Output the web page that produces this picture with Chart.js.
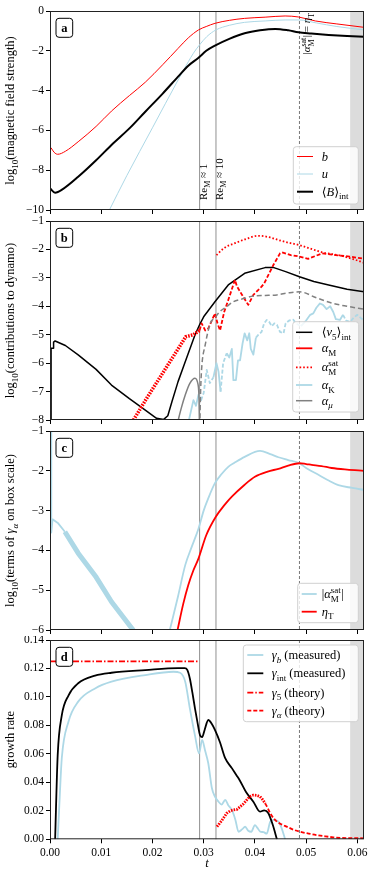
<!DOCTYPE html>
<html><head><meta charset="utf-8">
<script src="https://cdn.jsdelivr.net/npm/chart.js@4.4.1/dist/chart.umd.min.js"></script>
<style>
html,body{margin:0;padding:0;background:#fff;}
#wrap{position:relative;width:374px;height:877px;overflow:hidden;background:#fff;}
canvas{position:absolute;left:0;}
</style></head><body>
<div id="wrap">
<canvas id="cA" width="374" height="216" style="top:0px"></canvas>
<canvas id="cB" width="374" height="210" style="top:216px"></canvas>
<canvas id="cC" width="374" height="210" style="top:426px"></canvas>
<canvas id="cD" width="374" height="241" style="top:636px"></canvas>
</div>
<script>
// ---------- ticks & reference times ----------
const tTicks = [0,0.01,0.02,0.03,0.04,0.05,0.06];
const yTicksA = [-10,-8,-6,-4,-2,0];
const yTicksB = [-8,-7,-6,-5,-4,-3,-2,-1];
const yTicksC = [-6,-5,-4,-3,-2,-1];
const yTicksD = [0,0.02,0.04,0.06,0.08,0.10,0.12,0.14];
const tReM = [0.0292, 0.0324];
const tSat = 0.0487;
const tBand = 0.0586;
const tMax = 0.0613;

// ---------- panel a ----------
const tA_b = [0.0002,0.0008,0.0015,0.003,0.0055,0.009,0.012,0.0155,0.0186,0.022,0.025,0.027,0.029,0.0305,0.0322,0.035,0.038,0.042,0.0459,0.0485,0.0518,0.056,0.0613];
const vA_b = [-6.87,-7.1,-7.2,-7.05,-6.57,-5.8,-5.03,-4.25,-3.58,-2.7,-1.88,-1.35,-0.95,-0.78,-0.62,-0.47,-0.37,-0.31,-0.25,-0.3,-0.5,-0.65,-0.82];
const tA_u = [0.0114,0.015,0.02,0.025,0.027,0.028,0.0292,0.0306,0.0324,0.035,0.038,0.042,0.0459,0.0487,0.052,0.056,0.0613];
const vA_u = [-10.1,-8.27,-5.87,-3.47,-2.55,-2.12,-1.7,-1.29,-0.95,-0.72,-0.57,-0.5,-0.45,-0.45,-0.6,-0.78,-0.95];
const tA_B = [0,0.001,0.0025,0.0055,0.009,0.012,0.0155,0.0186,0.022,0.025,0.027,0.029,0.0305,0.0322,0.035,0.038,0.041,0.044,0.0465,0.0485,0.051,0.0544,0.058,0.0613];
const vA_B = [-8.91,-9.13,-8.95,-8.33,-7.5,-6.73,-5.9,-5.06,-4.15,-3.3,-2.75,-2.35,-2.0,-1.74,-1.4,-1.12,-0.97,-0.9,-0.97,-1.07,-1.13,-1.2,-1.26,-1.3];

// ---------- panel b ----------
const tB_v5 = [0.0002,0.00021,0.0006,0.0007,0.001,0.003,0.0055,0.009,0.012,0.0155,0.0186,0.0208,0.0222,0.023,0.0238,0.025,0.0264,0.0283,0.0292,0.03,0.0322,0.0348,0.038,0.042,0.0437,0.046,0.0487,0.0515,0.0544,0.058,0.0613];
const vB_v5 = [-9,-5.48,-5.48,-5.26,-5.22,-5.38,-5.71,-6.22,-6.77,-7.25,-7.65,-7.94,-7.98,-7.85,-7.36,-6.65,-5.95,-5.01,-4.65,-4.37,-3.84,-3.25,-2.84,-2.64,-2.64,-2.78,-2.96,-3.13,-3.25,-3.4,-3.49];
const tB_aMe = [0.0163,0.019,0.022,0.025,0.0265,0.028,0.0292];
const vB_aMe = [-8.0,-7.2,-6.35,-5.5,-5.07,-5.0,-4.85];
const tB_aM = [0.0292,0.0296,0.0303,0.0309,0.0316,0.0322,0.0327,0.0332,0.034,0.0348,0.0361,0.0365,0.0375,0.0387,0.0397,0.0413,0.0418,0.0436,0.0449,0.0453,0.047,0.0487,0.0504,0.0531,0.0557,0.0585,0.0613];
const vB_aM = [-4.85,-4.6,-4.85,-4.78,-4.5,-4.25,-4.6,-4.85,-4.2,-3.78,-3.07,-3.3,-3.6,-3.95,-3.6,-3.31,-3.2,-2.55,-2.14,-2.1,-2.2,-2.25,-2.33,-2.14,-2.2,-2.25,-2.33];
const tB_sat = [0.0325,0.034,0.0361,0.038,0.0407,0.043,0.0446,0.0465,0.0487,0.051,0.0531,0.0568,0.059,0.0613];
const vB_sat = [-2.2,-1.95,-1.78,-1.65,-1.52,-1.58,-1.67,-1.76,-1.85,-1.98,-2.1,-2.22,-2.33,-2.47];
const tB_aK = [0.027,0.028,0.0285,0.029,0.0295,0.03,0.0306,0.0312,0.0319,0.0325,0.0329,0.0333,0.0338,0.0345,0.035,0.0355,0.0358,0.0363,0.0367,0.0371,0.0376,0.038,0.0385,0.0389,0.0392,0.0397,0.0402,0.0407,0.0413,0.0418,0.0423,0.0428,0.0433,0.0438,0.0443,0.0449,0.0456,0.046,0.0467,0.0475,0.048,0.049,0.05,0.0508,0.0514,0.052,0.0527,0.0533,0.054,0.0547,0.0553,0.0558,0.0566,0.0572,0.0578,0.0586,0.0593,0.06,0.0606,0.0613];
const vB_aK = [-8.1,-7.3,-7.5,-7.1,-7.3,-7.05,-6.24,-6.7,-6.5,-6.0,-6.3,-7.0,-6.0,-5.65,-5.8,-5.5,-6.6,-6.6,-5.9,-5.9,-5.3,-4.95,-5.2,-4.95,-5.5,-5.7,-5.1,-5.0,-4.9,-4.6,-4.48,-4.55,-4.7,-4.6,-4.65,-4.9,-4.95,-4.6,-4.5,-4.47,-4.6,-4.7,-4.5,-4.3,-4.25,-4.05,-3.9,-3.95,-4.1,-4.0,-4.2,-4.45,-4.48,-4.3,-4.5,-4.55,-4.4,-4.3,-4.4,-4.5];
const sB_aK = [1,1,1,-1,-1,-1,-1,-1,1,1,1,-1,-1,1,1,1,1,1,1,1,1,1,1,1,1,1,-1,-1,-1,-1,-1,-1,-1,-1,-1,-1,-1,-1,-1,-1,-1,1,1,1,1,1,1,1,1,1,1,1,1,-1,-1,-1,-1,-1,-1,-1];
const tB_muP = [0.0249,0.0256,0.0264,0.0273,0.0283,0.0289,0.0291,0.0292];
const vB_muP = [-8.1,-7.6,-7.12,-6.71,-6.53,-6.75,-7.3,-8.5];
const tB_muN = [0.0292,0.0294,0.0296,0.0303,0.0313,0.0322,0.0332,0.0342,0.0358,0.038,0.0397,0.042,0.0443,0.0465,0.0487,0.052,0.0553,0.058,0.0613];
const vB_muN = [-8.5,-7.0,-6.2,-5.36,-4.6,-4.4,-4.18,-4.05,-3.84,-3.72,-3.64,-3.62,-3.6,-3.53,-3.49,-3.7,-3.9,-4.0,-4.1];

// ---------- panel c ----------
const tC_sat = [0.0002,0.00025,0.0005,0.0016,0.0029];
const vC_sat = [-0.8,-3.55,-3.22,-3.32,-3.53];
const tC_satBand = [0.0029,0.0055,0.009,0.012,0.016,0.0168];
const vC_satBand = [-3.53,-4.07,-4.67,-5.29,-5.96,-6.12];
const tC_sat2 = [0.0232,0.025,0.0264,0.0277,0.029,0.03,0.0309,0.0322,0.0335,0.0348,0.036,0.038,0.041,0.043,0.0446,0.0465,0.0487,0.05,0.0524,0.0545,0.0563,0.059,0.0613];
const vC_sat2 = [-6.1,-5.15,-4.37,-3.9,-3.45,-3.0,-2.69,-2.31,-2.08,-1.9,-1.8,-1.65,-1.5,-1.58,-1.66,-1.73,-1.81,-1.93,-2.1,-2.25,-2.36,-2.43,-2.48];
const tC_eta = [0.0249,0.026,0.027,0.028,0.029,0.0305,0.0324,0.034,0.0355,0.038,0.04,0.0425,0.0446,0.0465,0.0487,0.05,0.0511,0.053,0.055,0.058,0.0613];
const vC_eta = [-6.0,-5.35,-4.87,-4.5,-4.2,-3.62,-3.15,-2.87,-2.65,-2.35,-2.15,-2.02,-1.95,-1.87,-1.81,-1.83,-1.85,-1.88,-1.93,-1.97,-2.0];

// ---------- panel d ----------
const tD_g5 = [0, 0.029];
const vD_g5 = [0.125, 0.125];
const tD_int = [0.001,0.0015,0.0023,0.0036,0.0055,0.0088,0.012,0.0186,0.025,0.0263,0.0268,0.0273,0.0278,0.0283,0.0288,0.0293,0.0297,0.0302,0.0309,0.0316,0.0322,0.0332,0.0342,0.0355,0.0364,0.037,0.0383,0.0397,0.041,0.0418,0.0426,0.0435,0.0443];
const vD_int = [0,0.059,0.087,0.101,0.1096,0.115,0.117,0.1189,0.1203,0.1203,0.119,0.113,0.103,0.092,0.082,0.073,0.0718,0.077,0.0838,0.081,0.0768,0.068,0.057,0.05,0.045,0.0417,0.033,0.0264,0.0194,0.0203,0.0185,0.01,0];
const tD_b = [0.0015,0.0019,0.0023,0.0036,0.0055,0.0088,0.012,0.0186,0.0241,0.0254,0.0264,0.0273,0.0283,0.0291,0.0297,0.0303,0.0309,0.0316,0.0322,0.0329,0.0335,0.0342,0.0348,0.0355,0.0362,0.0368,0.0375,0.0381,0.0387,0.0393,0.04,0.0405,0.041,0.0417,0.0423,0.043,0.0436,0.0446,0.0452,0.0459];
const vD_b = [0,0.03,0.057,0.0826,0.0967,0.106,0.1107,0.1154,0.1177,0.117,0.1107,0.092,0.073,0.0604,0.0698,0.062,0.0534,0.036,0.03,0.0264,0.0244,0.0276,0.024,0.0206,0.0136,0.0053,0.007,0.0088,0.006,0.0053,0.01,0.008,0.0055,0.005,0.004,0.0124,0.0136,0.0124,0.008,0];
const tD_aE = [0.0326,0.0335,0.0345,0.0352,0.0358,0.0365,0.0371,0.0378,0.0384,0.039,0.0397,0.0404,0.041,0.0415,0.042];
const vD_aE = [0.0089,0.013,0.0183,0.02,0.0206,0.021,0.0229,0.025,0.0276,0.03,0.0311,0.0308,0.03,0.028,0.0253];
const tD_a = [0.042,0.0425,0.043,0.0436,0.0443,0.0452,0.0462,0.0475,0.0488,0.0505,0.052,0.0537,0.0553,0.057,0.059,0.0613];
const vD_a = [0.0253,0.022,0.0183,0.015,0.0124,0.0105,0.0089,0.0068,0.0053,0.004,0.003,0.0021,0.0014,0.001,0.0008,0.0007];

// ---------- styling helpers ----------
const FONT = "'Liberation Serif','DejaVu Serif',serif";
const RED = '#ff0000', LB = '#add8e6', GREY = '#808080';
const SMOOTH = {cubicInterpolationMode:'monotone'};
function pts(t, v){ return t.map((x,i)=>({x:x, y:v[i]})); }
const logFmt = v => (v === 0 ? '0' : (v < 0 ? '\u2212' : '') + Math.abs(v));
const decFmt = v => Number(v).toFixed(2);

function fontFor(k, size){
  const small = (k==='s'||k==='si'||k==='p');
  const fs = small ? size*0.72 : size;
  const it = (k==='i'||k==='si');
  const bd = (k==='b');
  return (it?'italic ':'') + (bd?'bold ':'') + fs.toFixed(2) + 'px ' + FONT;
}
function partW(ctx, p, size){
  if (p.length === 3){ ctx.font = fontFor('s', size); return Math.max(ctx.measureText(p[0]).width, ctx.measureText(p[1]).width) + 0.5; }
  ctx.font = fontFor(p[1], size); return ctx.measureText(p[0]).width;
}
function drawRich(ctx, parts, x, y, size, align, rot){
  ctx.save(); ctx.translate(x, y); if (rot) ctx.rotate(rot);
  let w = 0; for (const p of parts) w += partW(ctx, p, size);
  let cx = align === 'center' ? -w/2 : (align === 'right' ? -w : 0);
  ctx.fillStyle = '#000'; ctx.textAlign = 'left'; ctx.textBaseline = 'alphabetic';
  for (const p of parts){
    const pw = partW(ctx, p, size);
    if (p.length === 3){ ctx.fillText(p[0], cx, size*0.28); ctx.fillText(p[1], cx, -size*0.42); }
    else {
      const dy = (p[1]==='s'||p[1]==='si') ? size*0.28 : (p[1]==='p' ? -size*0.42 : 0);
      ctx.fillText(p[0], cx, dy);
    }
    cx += pw;
  }
  ctx.restore();
}
function rr(ctx, x, y, w, h, r){
  ctx.beginPath();
  ctx.moveTo(x+r, y); ctx.lineTo(x+w-r, y); ctx.arcTo(x+w, y, x+w, y+r, r);
  ctx.lineTo(x+w, y+h-r); ctx.arcTo(x+w, y+h, x+w-r, y+h, r);
  ctx.lineTo(x+r, y+h); ctx.arcTo(x, y+h, x, y+h-r, r);
  ctx.lineTo(x, y+r); ctx.arcTo(x, y, x+r, y, r); ctx.closePath();
}

const decoPlugin = {
  id: 'deco',
  beforeDatasetsDraw(chart){
    const ctx = chart.ctx; const a = chart.chartArea; const xs = chart.scales.x;
    ctx.save();
    const xb = xs.getPixelForValue(tBand);
    ctx.fillStyle = '#dcdcdc';
    ctx.fillRect(xb, a.top, a.right - xb, a.bottom - a.top);
    ctx.strokeStyle = '#9a9a9a'; ctx.lineWidth = 1.1; ctx.setLineDash([]);
    for (const t of tReM){
      const px = xs.getPixelForValue(t);
      ctx.beginPath(); ctx.moveTo(px, a.top); ctx.lineTo(px, a.bottom); ctx.stroke();
    }
    ctx.strokeStyle = '#555'; ctx.lineWidth = 0.8; ctx.setLineDash([3, 2]);
    const pd = xs.getPixelForValue(tSat);
    ctx.beginPath(); ctx.moveTo(pd, a.top); ctx.lineTo(pd, a.bottom); ctx.stroke();
    ctx.restore();
  },
  afterDraw(chart){
    const p = chart.$panel; const ctx = chart.ctx; const a = chart.chartArea; const xs = chart.scales.x;
    const off = p.top;
    ctx.save();
    ctx.setLineDash([]);
    ctx.strokeStyle = '#222'; ctx.lineWidth = 1;
    ctx.strokeRect(a.left + 0.5, a.top + 0.5, a.right - a.left - 1, a.bottom - a.top - 1);
    for (const n of (p.notes || [])){
      const px = xs.getPixelForValue(n.t) + n.dx;
      drawRich(ctx, n.parts, px, n.y - off, 11, n.align, -Math.PI/2);
    }
    const bx = 56, by = a.top + 7.3, bw = 16.7, bh = 19;
    rr(ctx, bx, by, bw, bh, 3);
    ctx.fillStyle = '#fff'; ctx.fill();
    ctx.strokeStyle = '#000'; ctx.lineWidth = 1; ctx.stroke();
    ctx.fillStyle = '#000'; ctx.font = 'bold 12.5px ' + FONT; ctx.textAlign = 'center'; ctx.textBaseline = 'alphabetic';
    ctx.fillText(p.letter, bx + bw/2, by + bh/2 + 4);
    const L = p.legend;
    rr(ctx, L.box[0], L.box[1] - off, L.box[2] - L.box[0], L.box[3] - L.box[1], 3);
    ctx.fillStyle = 'rgba(255,255,255,0.82)'; ctx.fill();
    ctx.strokeStyle = '#d0d0d0'; ctx.lineWidth = 1; ctx.stroke();
    L.items.forEach((it, i) => {
      const ds = chart.data.datasets[it.ds];
      const yy = L.rows[i] - off;
      ctx.save();
      ctx.strokeStyle = ds.borderColor; ctx.lineWidth = ds.borderWidth;
      ctx.setLineDash(ds.legendDash || ds.borderDash || []);
      ctx.beginPath(); ctx.moveTo(L.line[0], yy); ctx.lineTo(L.line[1], yy); ctx.stroke();
      ctx.restore();
      drawRich(ctx, it.parts, L.tx, yy + 4, 12.5, 'left', 0);
    });
    drawRich(ctx, p.title, 14, (a.top + a.bottom)/2, 12.5, 'center', -Math.PI/2);
    if (p.xLabels) drawRich(ctx, [['t','i']], (a.left + a.right)/2, 867 - off, 12.5, 'center', 0);
    ctx.restore();
  }
};

const panels = [
  { id:'cA', top:0, padTop:11, xh:6, ymin:-10, ymax:0, yTicks:yTicksA, fmt:logFmt, xLabels:false, letter:'a',
    title:[['log','n'],['10','s'],['(magnetic field strength)','n']],
    datasets:[
      Object.assign({data:pts(tA_b, vA_b), borderColor:RED, borderWidth:1}, SMOOTH),
      Object.assign({data:pts(tA_u, vA_u), borderColor:LB, borderWidth:1}, SMOOTH),
      Object.assign({data:pts(tA_B, vA_B), borderColor:'#000', borderWidth:2}, SMOOTH)
    ],
    legend:{box:[293.3,146.7,358.3,204], rows:[156.5,174,191.7], line:[297,313], tx:321.7, items:[
      {ds:0, parts:[['b','i']]},
      {ds:1, parts:[['u','i']]},
      {ds:2, parts:[['\u27E8','n'],['B','i'],['\u27E9','n'],['int','s']]}
    ]},
    notes:[
      {t:tReM[0], dx:7, y:200, align:'left', parts:[['Re','n'],['M','s'],[' \u2248 1','n']]},
      {t:tReM[1], dx:7, y:200, align:'left', parts:[['Re','n'],['M','s'],[' \u2248 10','n']]},
      {t:tSat, dx:11, y:13, align:'right', parts:[['|','n'],['\u03B1','i'],['M','sat','st'],['|','n'],[' = ','n'],['\u03B7','i'],['T','s']]}
    ]
  },
  { id:'cB', top:216, padTop:5, xh:6, ymin:-8, ymax:-1, yTicks:yTicksB, fmt:logFmt, xLabels:false, letter:'b',
    title:[['log','n'],['10','s'],['(contributions to dynamo)','n']],
    datasets:[
      {data:pts(tB_v5, vB_v5), borderColor:'#000', borderWidth:1.5},
      {data:pts(tB_aMe, vB_aMe), borderColor:RED, borderWidth:3.5, borderDash:[1.6,1.2]},
      {data:pts(tB_aM, vB_aM), borderColor:RED, borderWidth:1.8, borderDash:[4,2], legendDash:[]},
      Object.assign({data:pts(tB_sat, vB_sat), borderColor:RED, borderWidth:1.8, borderDash:[1.6,2]}, SMOOTH),
      {data:pts(tB_aK, vB_aK), borderColor:LB, borderWidth:1.8, legendDash:[],
        segment:{borderDash: c => (sB_aK[c.p0DataIndex] < 0 ? [4,2] : [])}},
      Object.assign({data:pts(tB_muP, vB_muP), borderColor:GREY, borderWidth:1.5}, SMOOTH),
      Object.assign({data:pts(tB_muN, vB_muN), borderColor:GREY, borderWidth:1.5, borderDash:[5,3]}, SMOOTH)
    ],
    legend:{box:[292.7,321.7,358.7,412], rows:[332.3,348.3,367.3,385,400.7], line:[296,312.3], tx:321.7, items:[
      {ds:0, parts:[['\u27E8','n'],['v','i'],['5','s'],['\u27E9','n'],['int','s']]},
      {ds:2, parts:[['\u03B1','i'],['M','s']]},
      {ds:3, parts:[['\u03B1','i'],['M','sat','st']]},
      {ds:4, parts:[['\u03B1','i'],['K','s']]},
      {ds:5, parts:[['\u03B1','i'],['\u03BC','si']]}
    ]}
  },
  { id:'cC', top:426, padTop:5, xh:6, ymin:-6, ymax:-1, yTicks:yTicksC, fmt:logFmt, xLabels:false, letter:'c',
    title:[['log','n'],['10','s'],['(terms of ','n'],['\u03B3','i'],['\u03B1','si'],[' on box scale)','n']],
    datasets:[
      {data:pts(tC_sat, vC_sat), borderColor:LB, borderWidth:1.8},
      {data:pts(tC_satBand, vC_satBand), borderColor:LB, borderWidth:5},
      Object.assign({data:pts(tC_sat2, vC_sat2), borderColor:LB, borderWidth:1.8}, SMOOTH),
      Object.assign({data:pts(tC_eta, vC_eta), borderColor:RED, borderWidth:1.8}, SMOOTH)
    ],
    legend:{box:[297.7,583.3,358.3,622.7], rows:[594,611.7], line:[301.7,316.7], tx:321.7, items:[
      {ds:0, parts:[['|','n'],['\u03B1','i'],['M','sat','st'],['|','n']]},
      {ds:3, parts:[['\u03B7','i'],['T','s']]}
    ]}
  },
  { id:'cD', top:636, padTop:4, xh:37.7, ymin:0, ymax:0.14, yTicks:yTicksD, fmt:decFmt, xLabels:true, letter:'d',
    title:[['growth rate','n']],
    datasets:[
      Object.assign({data:pts(tD_b, vD_b), borderColor:LB, borderWidth:1.8}, SMOOTH),
      Object.assign({data:pts(tD_int, vD_int), borderColor:'#000', borderWidth:1.8}, SMOOTH),
      {data:pts(tD_g5, vD_g5), borderColor:RED, borderWidth:1.8, borderDash:[6,2,1.5,2]},
      {data:pts(tD_aE, vD_aE), borderColor:RED, borderWidth:2.8, borderDash:[1.6,1.1]},
      Object.assign({data:pts(tD_a, vD_a), borderColor:RED, borderWidth:1.8, borderDash:[4,2]}, SMOOTH)
    ],
    legend:{box:[243.3,645,358.3,721.7], rows:[655,673.3,692.7,710.7], line:[247.3,263.3], tx:271.7, items:[
      {ds:0, parts:[['\u03B3','i'],['b','si'],[' (measured)','n']]},
      {ds:1, parts:[['\u03B3','i'],['int','s'],[' (measured)','n']]},
      {ds:2, parts:[['\u03B3','i'],['5','s'],[' (theory)','n']]},
      {ds:4, parts:[['\u03B3','i'],['\u03B1','si'],[' (theory)','n']]}
    ]}
  }
];

function zeroPad(ax){ ax.paddingLeft = 0; ax.paddingRight = 0; ax.paddingTop = 0; ax.paddingBottom = 0; }

function makeChart(p){
  const cv = document.getElementById(p.id);
  return new Chart(cv, {
    type: 'line',
    data: { datasets: p.datasets.map((d, i) => Object.assign({pointRadius:0, pointHoverRadius:0, fill:false, tension:0, clip:0, order:-i, borderJoinStyle:'round'}, d)) },
    options: {
      responsive:false, animation:false, devicePixelRatio:1, events:[],
      layout:{padding:{top:p.padTop, right:10, left:0, bottom:0}},
      plugins:{legend:{display:false}, tooltip:{enabled:false}},
      scales:{
        x:{ type:'linear', min:0, max:tMax,
            afterBuildTicks: ax => { ax.ticks = tTicks.map(v => ({value:v})); },
            afterFit: ax => { ax.height = p.xh; zeroPad(ax); },
            grid:{drawOnChartArea:false, drawTicks:true, tickLength:4, tickColor:'#000', tickWidth:1},
            border:{display:false},
            ticks:{display:p.xLabels, padding:3, color:'#000', font:{family:FONT, size:11.5}, maxRotation:0, autoSkip:false, callback: v => decFmt(v)} },
        y:{ type:'linear', min:p.ymin, max:p.ymax,
            afterBuildTicks: ax => { ax.ticks = p.yTicks.map(v => ({value:v})); },
            afterFit: ax => { ax.width = 50; zeroPad(ax); },
            grid:{drawOnChartArea:false, drawTicks:true, tickLength:4, tickColor:'#000', tickWidth:1},
            border:{display:false},
            ticks:{padding:2, color:'#000', font:{family:FONT, size:11.5}, autoSkip:false, callback: v => p.fmt(v)} }
      }
    },
    plugins:[decoPlugin]
  });
}

Chart.register({ id:'panelMeta', beforeInit(chart){ chart.$panel = panels.find(q => q.id === chart.canvas.id); } });
panels.forEach(makeChart);
</script>
</body></html>
